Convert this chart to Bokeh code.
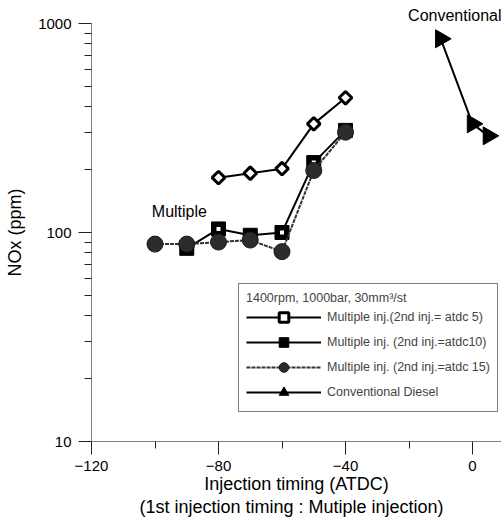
import math
from bokeh.plotting import figure
from bokeh.models import (Legend, LegendItem, Label, FixedTicker, PrintfTickFormatter,
                          LinearAxis, Title)
from bokeh.embed import file_html
from bokeh.resources import INLINE

# Data
x_atdc5 = [-80, -70, -60, -50, -40]
y_atdc5 = [183, 192, 202, 331, 441]
x_atdc10 = [-90, -80, -70, -60, -50, -40]
y_atdc10 = [84, 104, 97, 100, 216, 308]
x_atdc15 = [-100, -90, -80, -70, -60, -50, -40]
y_atdc15 = [88, 88, 90, 92, 81, 198, 302]
x_conv = [-10, 0, 5]
y_conv = [845, 331, 290]

x_major = [-120, -80, -40, 0]
x_minor = [-100, -60, -20]
y_major = [10, 100, 1000]
y_minor = [20, 30, 40, 50, 60, 70, 80, 90, 200, 300, 400, 500, 600, 700, 800, 900]

names = ["Multiple inj.(2nd inj.= atdc 5)",
         "Multiple inj. (2nd inj.=atdc10)",
         "Multiple inj. (2nd inj.=atdc 15)",
         "Conventional Diesel"]
legend_title = "1400rpm, 1000bar, 30mm\u00b3/st"
xlabel1 = "Injection timing (ATDC)"
xlabel2 = "(1st  injection timing  : Mutiple injection)"
ylabel = "NOx (ppm)"

FONT = "Liberation Sans"

p = figure(width=501, height=525, y_axis_type="log",
           x_range=(-120, 9.13), y_range=(10, 1000),
           output_backend="svg", toolbar_location=None,
           min_border_left=91, min_border_top=23, min_border_right=0,
           min_border_bottom=84)
p.outline_line_color = None
p.xgrid.visible = False
p.ygrid.visible = False

l1 = p.line(x_atdc5, y_atdc5, line_color="black", line_width=2)
s1 = p.scatter(x_atdc5, y_atdc5, marker="square", angle=math.pi / 4, size=9,
               fill_color="white", line_color="black", line_width=3)
l2 = p.line(x_atdc10, y_atdc10, line_color="black", line_width=2)
s2 = p.scatter(x_atdc10, y_atdc10, marker="square", size=14, fill_color="black",
               line_color="black", line_width=1)
s2i = p.scatter(x_atdc10, y_atdc10, marker="square", size=4, fill_color="white",
                line_color=None)
l3 = p.line(x_atdc15, y_atdc15, line_color="#333333", line_width=2, line_dash="4 1")
s3 = p.scatter(x_atdc15, y_atdc15, marker="circle", size=16, fill_color="#2c2c2c",
               line_color="#1a1a1a", line_width=1)
l4 = p.line(x_conv, y_conv, line_color="black", line_width=2)
s4 = p.scatter(x_conv, y_conv, marker="triangle", size=18, angle=-math.pi / 2,
               fill_color="black", line_color="black")

legend = Legend(items=[LegendItem(label=names[0], renderers=[l1, s1]),
                       LegendItem(label=names[1], renderers=[l2, s2]),
                       LegendItem(label=names[2], renderers=[l3, s3]),
                       LegendItem(label=names[3], renderers=[l4, s4])],
                location=(147, 29), title=legend_title,
                title_text_font=FONT, title_text_font_size="12.5px",
                title_text_font_style="normal", title_standoff=0,
                label_text_font=FONT, label_text_font_size="12.5px",
                glyph_width=75, glyph_height=24, label_standoff=6,
                spacing=1, padding=7, margin=0,
                border_line_color="black", border_line_width=1,
                background_fill_alpha=1)
p.add_layout(legend)

p.add_layout(Label(x=-101, y=115, text="Multiple", text_font=FONT,
                   text_font_size="16px", text_color="black"))
p.add_layout(Title(text="Conventional", align="right", text_font=FONT,
                   text_font_size="16px", text_font_style="normal",
                   text_color="black", standoff=0, offset=0), "above")

p.xaxis.ticker = FixedTicker(ticks=x_major, minor_ticks=x_minor)
p.yaxis.ticker = FixedTicker(ticks=y_major, minor_ticks=y_minor)
p.yaxis.formatter = PrintfTickFormatter(format="%d")
for ax in (p.xaxis[0], p.yaxis[0]):
    ax.axis_line_color = "#808080"
    ax.major_tick_line_color = "#222222"
    ax.minor_tick_line_color = "#222222"
    ax.major_tick_out = 13
    ax.major_tick_in = 0
    ax.minor_tick_out = 7
    ax.minor_tick_in = 0
    ax.major_label_text_font = FONT
    ax.major_label_text_font_size = "15px"
    ax.major_label_text_color = "black"
    ax.axis_label_text_font = FONT
    ax.axis_label_text_font_size = "18px"
    ax.axis_label_text_font_style = "normal"
    ax.axis_label_text_color = "black"

p.xaxis.axis_label = xlabel1
p.xaxis.major_label_standoff = 6
p.xaxis.axis_label_standoff = 0
p.yaxis.axis_label = ylabel
p.yaxis.major_label_standoff = 7
p.yaxis.axis_label_standoff = 10

ax2 = LinearAxis(ticker=FixedTicker(ticks=[]), axis_label=xlabel2,
                 axis_line_color=None, major_tick_line_color=None,
                 minor_tick_line_color=None, major_label_text_font_size="0px",
                 axis_label_standoff=0, axis_label_text_font=FONT,
                 axis_label_text_font_size="18px", axis_label_text_font_style="normal",
                 axis_label_text_color="black")
p.add_layout(ax2, "below")

open("out.html", "w").write(file_html(p, INLINE))
